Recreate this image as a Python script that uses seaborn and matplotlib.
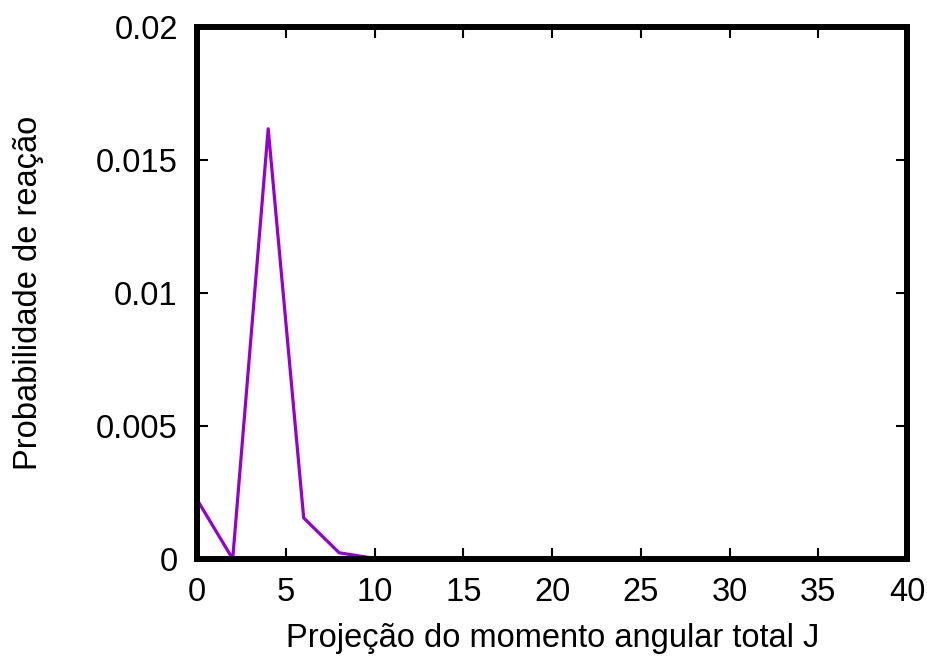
import numpy as np
import pandas as pd
import matplotlib
matplotlib.use("Agg")
import matplotlib.pyplot as plt
import seaborn as sns

J = [0, 2, 4, 6, 8, 10, 12, 14, 16, 18, 20, 22, 24, 26, 28, 30, 32, 34, 36, 38, 40]
prob = [0.00222, 0.0, 0.01617, 0.00154, 0.00023, 0.00002, 0.0, 0.0, 0.0, 0.0, 0.0,
        0.0, 0.0, 0.0, 0.0, 0.0, 0.0, 0.0, 0.0, 0.0, 0.0]
xticks = [0, 5, 10, 15, 20, 25, 30, 35, 40]
yticks = [0, 0.005, 0.01, 0.015, 0.02]
ytick_labels = ["0", "0.005", "0.01", "0.015", "0.02"]

sns.set_theme(style="white")
plt.rcParams['font.family'] = ['Liberation Sans', 'DejaVu Sans']

df = pd.DataFrame({"J": J, "P": prob})
fig = plt.figure(figsize=(9.28, 6.56), dpi=100)
ax = fig.add_axes([0.2125, 0.148, 0.765, 0.811])
sns.lineplot(data=df, x="J", y="P", ax=ax, color="#9400D3", linewidth=2.3)

ax.set_xlim(0, 40)
ax.set_ylim(0, 0.02)
ax.set_xticks(xticks)
ax.set_xticklabels([str(t) for t in xticks])
ax.set_yticks(yticks)
ax.set_yticklabels(ytick_labels)
for s in ax.spines.values():
    s.set_linewidth(4.3)
    s.set_color("black")
    s.set_zorder(5)
ax.tick_params(axis="both", which="both", direction="in", length=8, width=1.5,
               top=True, right=True, bottom=True, left=True, labelsize=23.5,
               colors="black", labelcolor="black")
ax.tick_params(axis="y", pad=14)
ax.tick_params(axis="x", pad=13)
ax.set_xlabel("Projeção do momento angular total J", fontsize=23.5, labelpad=11, color="black")
ax.set_ylabel("Probabilidade de reação", fontsize=23.5, labelpad=37, color="black")
ax.grid(False)
fig.savefig("out.png", dpi=100)
